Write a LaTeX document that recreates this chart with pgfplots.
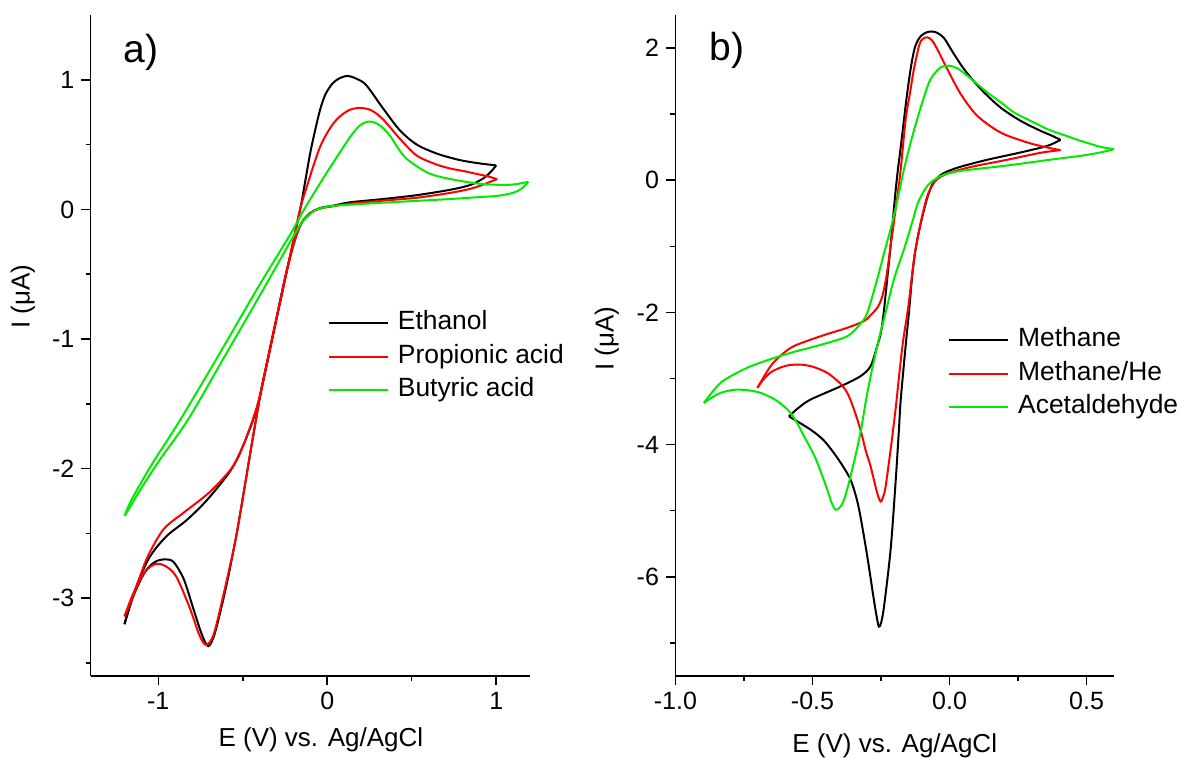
\documentclass[border=0pt]{standalone}
\usepackage{pgfplots}
\pgfplotsset{compat=1.18}
\usepackage{fontspec}
\setmainfont{Liberation Sans}
\definecolor{cvred}{RGB}{255,0,0}
\definecolor{cvgreen}{RGB}{0,235,0}
\pgfplotsset{
  cvaxis/.style={
    scale only axis,
    axis lines*=left,
    axis line style={line width=0.75pt},
    tick align=outside,
    major tick length=4.7pt,
    minor tick length=2.6pt,
    every tick/.style={line width=0.75pt, black},
    tick label style={font=\fontsize{12.5}{14}\selectfont},
    xlabel style={font=\fontsize{13}{15}\selectfont},
    ylabel style={font=\fontsize{13}{15}\selectfont},
    every axis plot/.append style={line width=1pt, smooth, tension=0.5},
    legend image code/.code={\draw[#1, line width=1pt] (0pt,0pt) -- (29.5pt,0pt);},
    legend style={draw=none, fill=none, inner sep=0pt, outer sep=0pt,
      row sep=4.25pt, column sep=4.5pt, font=\fontsize{13.2}{15}\selectfont,
      nodes={inner sep=0pt, text height=9.5pt, text depth=3pt}},
    legend cell align=left,
  }
}
\begin{document}
\begin{tikzpicture}
\path[use as bounding box] (0,0) rectangle (591pt,379pt);
% ---------------- panel a ----------------
\begin{axis}[cvaxis, at={(45.35pt,41pt)}, anchor=south west,
  width=219.65pt, height=330.5pt,
  xmin=-1.4, xmax=1.2, ymin=-3.6, ymax=1.5,
  xtick={-1,0,1}, xticklabels={-1,0,1}, minor xtick={-0.5,0.5},
  ytick={-3,-2,-1,0,1}, yticklabels={-3,-2,-1,0,1},
  minor ytick={-3.5,-2.5,-1.5,-0.5,0.5},
  xlabel={E (V) vs. Ag/AgCl}, ylabel={I (μA)},
  xlabel style={at={(axis description cs:0.524,-0.1074)}, anchor=base},
  ylabel style={at={(axis description cs:-0.1546,0.574)}, anchor=center},
  legend style={at={(axis description cs:0.540,0.4826)}, anchor=west},
]
\addplot[black] coordinates {(1.00,0.34) (0.93,0.35) (0.85,0.365) (0.77,0.385) (0.65,0.43) (0.53,0.50) (0.43,0.61) (0.33,0.78) (0.23,0.96) (0.17,1.01) (0.12,1.03) (0.07,1.01) (0.03,0.97) (-0.01,0.89) (-0.04,0.78) (-0.07,0.62) (-0.10,0.44) (-0.13,0.22) (-0.16,0.00) (-0.22,-0.36) (-0.27,-0.66) (-0.33,-1.02) (-0.39,-1.39) (-0.44,-1.76) (-0.49,-2.15) (-0.54,-2.53) (-0.60,-2.92) (-0.665,-3.27) (-0.705,-3.37) (-0.745,-3.27) (-0.795,-3.07) (-0.85,-2.85) (-0.91,-2.72) (-0.96,-2.70) (-1.02,-2.72) (-1.08,-2.80) (-1.15,-2.99) (-1.20,-3.20)};
\addlegendentry{Ethanol}
\addplot[black, forget plot] coordinates {(-1.20,-3.20) (-1.13,-2.91) (-1.05,-2.68) (-0.95,-2.52) (-0.83,-2.395) (-0.71,-2.24) (-0.575,-2.02) (-0.50,-1.83) (-0.42,-1.55) (-0.37,-1.27) (-0.31,-0.90) (-0.25,-0.53) (-0.21,-0.32) (-0.18,-0.19) (-0.15,-0.10) (-0.12,-0.05) (-0.08,-0.01) (-0.03,0.015) (0.04,0.03) (0.135,0.055) (0.33,0.08) (0.53,0.11) (0.73,0.152) (0.85,0.19) (0.93,0.245) (0.975,0.30) (1.00,0.34)};
\addplot[cvred] coordinates {(1.005,0.234) (0.95,0.255) (0.88,0.275) (0.81,0.295) (0.73,0.315) (0.65,0.345) (0.53,0.415) (0.43,0.545) (0.33,0.695) (0.26,0.765) (0.19,0.783) (0.12,0.76) (0.04,0.67) (-0.04,0.49) (-0.12,0.18) (-0.165,-0.02) (-0.22,-0.36) (-0.27,-0.66) (-0.33,-1.02) (-0.39,-1.39) (-0.44,-1.76) (-0.49,-2.15) (-0.54,-2.53) (-0.605,-2.92) (-0.67,-3.27) (-0.715,-3.36) (-0.755,-3.29) (-0.815,-3.07) (-0.895,-2.83) (-0.96,-2.75) (-1.01,-2.735) (-1.06,-2.77) (-1.11,-2.86) (-1.16,-3.0) (-1.20,-3.14)};
\addlegendentry{Propionic acid}
\addplot[cvred, forget plot] coordinates {(-1.20,-3.14) (-1.15,-2.99) (-1.07,-2.70) (-0.97,-2.47) (-0.85,-2.34) (-0.695,-2.18) (-0.565,-1.995) (-0.50,-1.83) (-0.42,-1.54) (-0.37,-1.27) (-0.31,-0.90) (-0.25,-0.53) (-0.21,-0.32) (-0.18,-0.19) (-0.15,-0.10) (-0.12,-0.05) (-0.08,-0.012) (-0.03,0.01) (0.04,0.025) (0.135,0.045) (0.33,0.068) (0.53,0.09) (0.73,0.128) (0.85,0.16) (0.93,0.195) (1.005,0.234)};
\addplot[cvgreen] coordinates {(1.19,0.213) (1.14,0.20) (1.08,0.19) (1.0,0.19) (0.886,0.20) (0.728,0.234) (0.63,0.265) (0.57,0.30) (0.47,0.39) (0.42,0.47) (0.37,0.57) (0.31,0.65) (0.254,0.678) (0.20,0.655) (0.15,0.585) (0.10,0.49) (0.05,0.39) (0.0,0.29) (-0.05,0.185) (-0.10,0.08) (-0.15,-0.03) (-0.20,-0.15) (-0.25,-0.26) (-0.418,-0.62) (-0.645,-1.13) (-0.873,-1.63) (-1.03,-1.95) (-1.12,-2.15) (-1.17,-2.27) (-1.199,-2.364)};
\addlegendentry{Butyric acid}
\addplot[cvgreen, forget plot] coordinates {(-1.199,-2.364) (-1.16,-2.28) (-1.10,-2.15) (-0.99,-1.93) (-0.823,-1.62) (-0.606,-1.132) (-0.378,-0.616) (-0.21,-0.23) (-0.15,-0.10) (-0.10,-0.035) (-0.062,0.0) (0.017,0.025) (0.15,0.038) (0.333,0.052) (0.53,0.066) (0.728,0.08) (0.90,0.095) (1.01,0.105) (1.10,0.128) (1.15,0.16) (1.19,0.213)};
\node[anchor=west, inner sep=0pt, font=\fontsize{19.5}{22}\selectfont] at (axis description cs:0.0735,0.944) {a)};
\end{axis}
% ---------------- panel b ----------------
\begin{axis}[cvaxis, at={(337.7pt,41pt)}, anchor=south west,
  width=219.3pt, height=330.5pt,
  xmin=-1, xmax=0.6, ymin=-7.5, ymax=2.5,
  xtick={-1,-0.5,0,0.5}, xticklabels={-1.0,-0.5,0.0,0.5}, minor xtick={-0.75,-0.25,0.25},
  ytick={-6,-4,-2,0,2}, yticklabels={-6,-4,-2,0,2},
  minor ytick={-7,-5,-3,-1,1},
  xlabel={E (V) vs. Ag/AgCl}, ylabel={I (μA)},
  xlabel style={at={(axis description cs:0.5,-0.115)}, anchor=base},
  ylabel style={at={(axis description cs:-0.156,0.51)}, anchor=center},
  legend style={at={(axis description cs:0.622,0.4569)}, anchor=west},
]
\addplot[black] coordinates {(0.405,0.611) (0.37,0.68) (0.332,0.747) (0.259,0.899) (0.186,1.10) (0.114,1.379) (0.053,1.68) (0.01,1.95) (-0.02,2.15) (-0.045,2.23) (-0.065,2.25) (-0.085,2.235) (-0.105,2.18) (-0.12,2.08) (-0.13,1.95) (-0.142,1.68) (-0.155,1.30) (-0.166,0.924) (-0.178,0.50) (-0.19,0.10) (-0.20,-0.30) (-0.215,-0.995) (-0.23,-1.60) (-0.24,-2.00) (-0.25,-2.30) (-0.264,-2.51) (-0.288,-2.813) (-0.325,-2.965) (-0.397,-3.117) (-0.507,-3.318) (-0.55,-3.44) (-0.586,-3.571)};
\addlegendentry{Methane}
\addplot[black, forget plot] coordinates {(-0.586,-3.571) (-0.507,-3.773) (-0.46,-3.93) (-0.422,-4.126) (-0.39,-4.32) (-0.361,-4.53) (-0.34,-4.80) (-0.325,-5.086) (-0.30,-5.692) (-0.276,-6.348) (-0.265,-6.62) (-0.258,-6.753) (-0.25,-6.70) (-0.239,-6.45) (-0.215,-5.59) (-0.197,-4.58) (-0.185,-3.80) (-0.178,-3.32) (-0.16,-2.5) (-0.148,-2.0) (-0.135,-1.4) (-0.12,-0.95) (-0.10,-0.56) (-0.08,-0.25) (-0.06,-0.04) (-0.035,0.07) (-0.01,0.13) (0.041,0.205) (0.138,0.31) (0.259,0.42) (0.357,0.52) (0.405,0.611)};
\addplot[cvred] coordinates {(0.405,0.455) (0.357,0.495) (0.284,0.571) (0.186,0.722) (0.101,0.975) (0.041,1.303) (-0.008,1.68) (-0.045,1.985) (-0.065,2.12) (-0.081,2.162) (-0.097,2.14) (-0.11,2.05) (-0.13,1.68) (-0.145,1.30) (-0.16,0.924) (-0.178,0.167) (-0.19,-0.238) (-0.215,-0.995) (-0.23,-1.45) (-0.245,-1.75) (-0.262,-1.92) (-0.29,-2.05) (-0.312,-2.131) (-0.373,-2.232) (-0.47,-2.359) (-0.568,-2.51) (-0.615,-2.65) (-0.653,-2.813) (-0.701,-3.141)};
\addlegendentry{Methane/He}
\addplot[cvred, forget plot] coordinates {(-0.701,-3.141) (-0.68,-3.02) (-0.65,-2.90) (-0.60,-2.81) (-0.55,-2.788) (-0.50,-2.82) (-0.446,-2.914) (-0.40,-3.07) (-0.373,-3.217) (-0.35,-3.45) (-0.325,-3.773) (-0.305,-4.10) (-0.288,-4.328) (-0.264,-4.73) (-0.251,-4.86) (-0.24,-4.76) (-0.233,-4.63) (-0.215,-4.076) (-0.197,-3.47) (-0.185,-3.0) (-0.17,-2.45) (-0.15,-1.9) (-0.13,-1.2) (-0.115,-0.85) (-0.10,-0.55) (-0.081,-0.238) (-0.06,-0.06) (-0.045,0.015) (-0.008,0.10) (0.077,0.20) (0.211,0.31) (0.332,0.415) (0.405,0.455)};
\addplot[cvgreen] coordinates {(0.6,0.47) (0.551,0.505) (0.478,0.596) (0.42,0.68) (0.357,0.773) (0.30,0.89) (0.235,1.026) (0.19,1.17) (0.138,1.329) (0.065,1.58) (0.03,1.69) (-0.002,1.732) (-0.035,1.70) (-0.069,1.53) (-0.09,1.30) (-0.118,0.924) (-0.145,0.52) (-0.166,0.167) (-0.19,-0.30) (-0.215,-0.74) (-0.24,-1.12) (-0.264,-1.5) (-0.30,-2.005) (-0.325,-2.17) (-0.373,-2.36) (-0.47,-2.49) (-0.57,-2.60) (-0.67,-2.73) (-0.75,-2.86) (-0.835,-3.065) (-0.896,-3.369)};
\addlegendentry{Acetaldehyde}
\addplot[cvgreen, forget plot] coordinates {(-0.896,-3.369) (-0.86,-3.27) (-0.835,-3.217) (-0.80,-3.18) (-0.774,-3.167) (-0.73,-3.18) (-0.689,-3.217) (-0.64,-3.31) (-0.604,-3.42) (-0.58,-3.52) (-0.555,-3.68) (-0.531,-3.874) (-0.505,-4.07) (-0.482,-4.277) (-0.446,-4.68) (-0.43,-4.88) (-0.416,-4.985) (-0.40,-4.95) (-0.385,-4.833) (-0.361,-4.48) (-0.325,-3.823) (-0.30,-3.217) (-0.264,-2.51) (-0.233,-2.0) (-0.203,-1.5) (-0.165,-1.03) (-0.135,-0.62) (-0.115,-0.34) (-0.081,-0.086) (-0.032,0.065) (0.041,0.141) (0.199,0.217) (0.381,0.318) (0.48,0.37) (0.551,0.42) (0.6,0.47)};
\node[anchor=west, inner sep=0pt, font=\fontsize{19.5}{22}\selectfont] at (axis description cs:0.0777,0.947) {b)};
\end{axis}
\end{tikzpicture}
\end{document}
